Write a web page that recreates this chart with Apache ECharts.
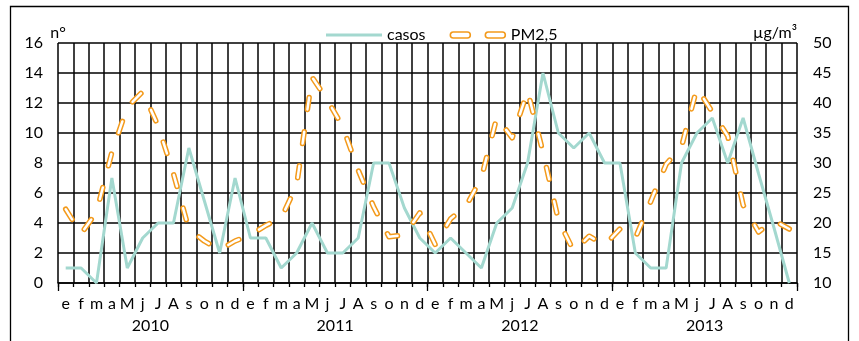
<!DOCTYPE html>
<html>
<head>
<meta charset="utf-8">
<script src="https://cdn.jsdelivr.net/npm/echarts@6/dist/echarts.min.js"></script>
<style>
  html, body { margin: 0; padding: 0; background: #fff; }
  #chart { width: 859px; height: 341px; }
</style>
</head>
<body>
<div id="chart"></div>
<script>
// data
const years = ['2010', '2011', '2012', '2013'];
const months = ['e', 'f', 'm', 'a', 'M', 'j', 'J', 'A', 's', 'o', 'n', 'd'];

const casos = [
  1, 1, 0, 7, 1, 3, 4, 4, 9, 5.5, 2, 7,
  3, 3, 1, 2, 4, 2, 2, 3, 8, 8, 5, 3,
  2, 3, 2, 1, 4, 5, 8, 14, 10, 9, 10, 8,
  8, 2, 1, 1, 8, 10, 11, 8, 11, 7.3, 3.7, 0
];
const pm25 = [
  22.3, 18.2, 21.8, 31.8, 39.3, 41.9, 36.2, 28.2, 19, 17, 15.5, 17,
  18, 19.6, 20.8, 26.3, 44.3, 40.5, 36, 28.8, 22.7, 17.7, 18, 21.7,
  16.4, 20.7, 22.8, 27.5, 37.6, 34.2, 42, 31.8, 20.5, 15.3, 17.8, 16.3,
  19, 17.5, 23.6, 29.8, 32.7, 42.5, 38.5, 34.5, 23, 18.5, 20.4, 19
];

const leftAxis = { min: 0, max: 16, interval: 2 };
const rightAxis = { min: 10, max: 50, interval: 5 };

// one category per month, label shows only the month letter
const categories = [];
years.forEach(y => months.forEach(m => categories.push(m + ' ' + y)));

const teal = '#a3d8cf';
const orange = '#f39a1b';
const font = 'Lato';
const fs = 16;

const chart = echarts.init(document.getElementById('chart'));

const option = {
  animation: false,
  backgroundColor: '#fff',
  textStyle: { fontFamily: font, color: '#000' },
  graphic: [{
    type: 'rect',
    shape: { x: 10.5, y: 6.5, width: 838, height: 345 },
    style: { fill: 'none', stroke: '#000', lineWidth: 1.3 },
    silent: true
  }],
  legend: {
    left: 321,
    top: 22,
    itemWidth: 56,
    itemHeight: 6,
    itemGap: 24,
    textStyle: { fontFamily: font, fontSize: fs, color: '#000' },
    data: [
      {
        name: 'casos',
        icon: 'path://M0 0L56 0L56 3L0 3Z',
        itemStyle: { color: teal, borderWidth: 0 }
      },
      {
        name: 'PM2,5',
        icon: 'path://M3 0L17 0A3 3 0 0 1 17 6L3 6A3 3 0 0 1 3 0ZM38 0L52 0A3 3 0 0 1 52 6L38 6A3 3 0 0 1 38 0Z',
        itemStyle: { color: '#fff', borderColor: orange, borderWidth: 1.6 }
      }
    ]
  },
  grid: { left: 58, right: 62, top: 43, bottom: 58, outerBoundsMode: 'none' },
  xAxis: [
    {
      type: 'category',
      data: categories,
      boundaryGap: true,
      position: 'bottom',
      axisLine: { show: true, lineStyle: { color: '#000', width: 1.5 } },
      axisTick: { show: true, interval: 0, length: 4, lineStyle: { color: '#000', width: 1.3 } },
      axisLabel: {
        interval: 0,
        margin: 13,
        fontFamily: font,
        fontSize: fs,
        color: '#000',
        formatter: v => v.split(' ')[0]
      },
      splitLine: { show: true, interval: 0, lineStyle: { color: '#000', width: 1.5 } }
    },
    {
      type: 'category',
      data: years,
      boundaryGap: true,
      position: 'bottom',
      axisLine: { show: false },
      axisTick: { show: true, interval: 0, length: 8, lineStyle: { color: '#000', width: 1.3 } },
      axisLabel: { interval: 0, margin: 35, fontFamily: font, fontSize: fs, color: '#000' },
      splitLine: { show: false }
    }
  ],
  yAxis: [
    {
      type: 'value',
      min: leftAxis.min,
      max: leftAxis.max,
      interval: leftAxis.interval,
      position: 'left',
      name: 'n°',
      nameLocation: 'end',
      nameGap: 2,
      nameTextStyle: { fontFamily: font, fontSize: fs, color: '#000', align: 'center', verticalAlign: 'bottom' },
      axisLine: { show: false },
      axisTick: { show: false },
      axisLabel: { margin: 15, fontFamily: font, fontSize: fs, color: '#000' },
      splitLine: { show: true, lineStyle: { color: '#000', width: 1.5 } }
    },
    {
      type: 'value',
      min: rightAxis.min,
      max: rightAxis.max,
      interval: rightAxis.interval,
      position: 'right',
      name: 'µg/m³',
      nameLocation: 'end',
      nameGap: 2,
      nameTextStyle: { fontFamily: font, fontSize: fs, color: '#000', align: 'right', verticalAlign: 'bottom' },
      axisLine: { show: false },
      axisTick: { show: false },
      axisLabel: { margin: 16, fontFamily: font, fontSize: fs, color: '#000' },
      splitLine: { show: false }
    }
  ],
  series: [
    {
      name: 'casos',
      type: 'line',
      xAxisIndex: 0,
      yAxisIndex: 0,
      data: casos,
      symbol: 'none',
      lineStyle: { color: teal, width: 3 },
      itemStyle: { color: teal },
      z: 3
    },
    {
      name: 'PM2,5',
      type: 'line',
      xAxisIndex: 0,
      yAxisIndex: 1,
      data: pm25,
      symbol: 'none',
      lineStyle: { color: orange, width: 5.5, type: [12, 22.5], cap: 'round', join: 'round' },
      itemStyle: { color: orange },
      z: 4
    },
    {
      // white core that gives the dashes their hollow look
      name: 'PM2,5',
      type: 'line',
      xAxisIndex: 0,
      yAxisIndex: 1,
      data: pm25,
      symbol: 'none',
      lineStyle: { color: '#fff', width: 2.5, type: [12, 22.5], cap: 'round', join: 'round' },
      itemStyle: { color: '#fff' },
      z: 5
    }
  ]
};

chart.setOption(option);
</script>
</body>
</html>
